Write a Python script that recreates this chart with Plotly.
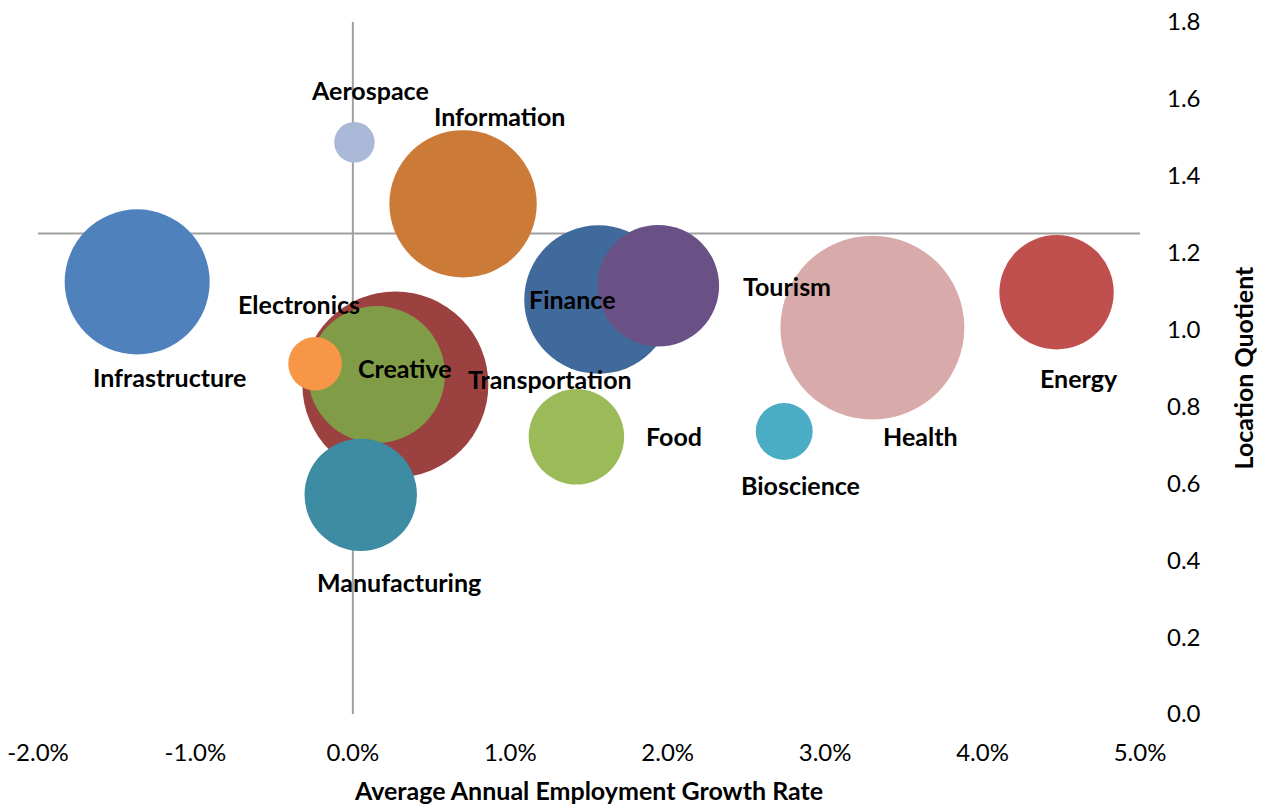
import numpy as np
import plotly.graph_objects as go

# Industry clusters: employment growth vs. location quotient, bubble area = employment (thousands)
clusters = ["Aerospace", "Information", "Infrastructure", "Electronics", "Transportation",
            "Creative", "Manufacturing", "Finance", "Tourism", "Food", "Bioscience",
            "Health", "Energy"]
growth_pct = [0.01, 0.70, -1.37, -0.24, 0.27, 0.15, 0.05, 1.56, 1.94, 1.42, 2.74, 3.30, 4.47]
location_quotient = [1.487, 1.327, 1.124, 0.911, 0.857, 0.883, 0.570, 1.078, 1.114, 0.721,
                     0.735, 1.005, 1.097]
employment = [4.1, 54.3, 52.6, 7.2, 86.5, 46.9, 31.6, 55.1, 37.0, 22.8, 8.1, 84.6, 32.7]

colors = ["#AAB9D7", "#CC7A38", "#4F81BD", "#F79646", "#9B4240", "#809C47", "#3D8CA3",
          "#406A9B", "#695186", "#9BBB59", "#4BACC6", "#D9AAAA", "#C0504D"]

# label offsets from bubble centre, in pixels (right, up)
label_dx = [16, 36, 32, -16, 155, 29, 38, -26, 129, 98, 16, 48, 22]
label_dy = [52, 88, -95, 60, 6, 7, -87, 1, 0, 1, -54, -108, -86]

X_CROSS = 0.0     # vertical axis crosses at 0 %
Y_CROSS = 1.25    # horizontal axis crosses at LQ 1.25

FONT = "Lato, Liberation Sans Narrow, sans-serif"
MAX_DIAMETER = 186

# largest bubbles first so smaller ones sit on top
order = np.argsort(employment)[::-1]
xs = np.array(growth_pct)[order]
ys = np.array(location_quotient)[order]
ss = np.array(employment)[order]
cs = np.array(colors)[order]

fig = go.Figure()
fig.add_trace(go.Scatter(
    x=xs, y=ys, mode="markers",
    marker=dict(size=ss, sizemode="area",
                sizeref=2.0 * max(employment) / MAX_DIAMETER ** 2,
                color=list(cs), opacity=1, line=dict(width=0)),
    hovertext=[clusters[i] for i in order], hoverinfo="text",
    showlegend=False,
))

for name, x, y, dx, dy in zip(clusters, growth_pct, location_quotient, label_dx, label_dy):
    fig.add_annotation(x=x, y=y, text=name, showarrow=False, xshift=dx, yshift=dy,
                       font=dict(family=FONT, size=25, color="#000000", weight="bold"))

line_style = dict(color="#A0A0A0", width=2)
fig.add_shape(type="line", xref="x", yref="y", x0=-2, x1=5, y0=Y_CROSS, y1=Y_CROSS,
              line=line_style, layer="below")
fig.add_shape(type="line", xref="x", yref="y", x0=X_CROSS, x1=X_CROSS, y0=0, y1=1.8,
              line=line_style, layer="below")

fig.update_layout(
    width=1272, height=805,
    margin=dict(l=38, r=132, t=22, b=91, autoexpand=False),
    paper_bgcolor="white", plot_bgcolor="white",
    font=dict(family=FONT, color="#000000"),
    xaxis=dict(range=[-2, 5], tickvals=[-2, -1, 0, 1, 2, 3, 4, 5],
               ticktext=["-2.0%", "-1.0%", "0.0%", "1.0%", "2.0%", "3.0%", "4.0%", "5.0%"],
               showgrid=False, zeroline=False, showline=False, ticks="",
               tickfont=dict(size=24), ticklabelstandoff=22, automargin=False,
               title=dict(text="Average Annual Employment Growth Rate", standoff=20,
                          font=dict(size=25, weight="bold"))),
    yaxis=dict(range=[0, 1.8], tickvals=[0, 0.2, 0.4, 0.6, 0.8, 1.0, 1.2, 1.4, 1.6, 1.8],
               ticktext=["0.0", "0.2", "0.4", "0.6", "0.8", "1.0", "1.2", "1.4", "1.6", "1.8"],
               side="right", showgrid=False, zeroline=False, showline=False, ticks="",
               tickfont=dict(size=24), ticklabelstandoff=26, automargin=False,
               title=dict(text="Location Quotient", standoff=35,
                          font=dict(size=25, weight="bold"))),
)

fig.write_html("out.html")
